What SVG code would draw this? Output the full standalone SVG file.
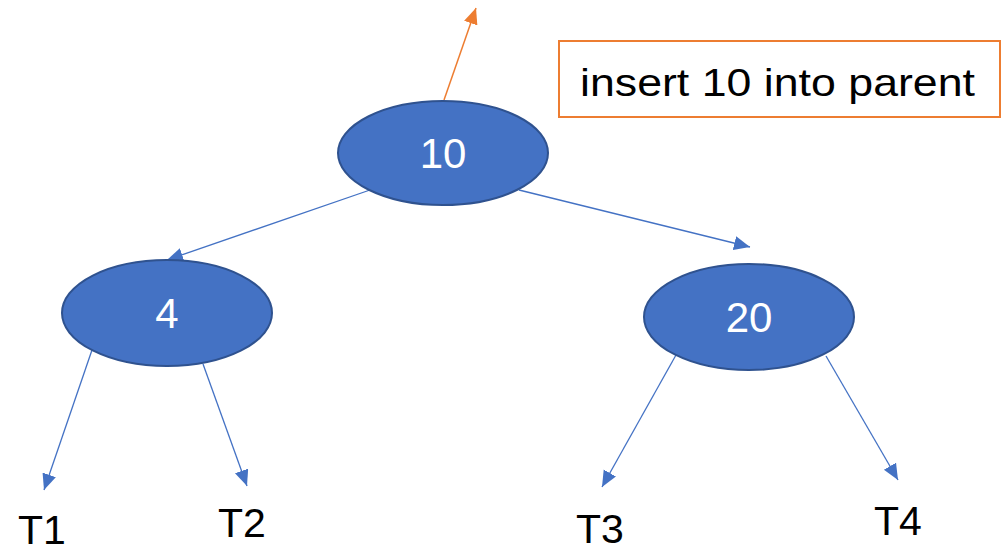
<svg xmlns="http://www.w3.org/2000/svg" width="1004" height="552" viewBox="0 0 1004 552">
  <style>
    .node ellipse { fill: #4472C4; stroke: #2F528F; stroke-width: 2; }
    .node text { fill: #FFFFFF; font-family: "Liberation Sans", Arial, sans-serif; font-size: 42px; text-anchor: middle; }
    .edge { stroke: #4472C4; stroke-width: 1.3; fill: none; marker-end: url(#arrowBlue); }
    .leaf { fill: #000000; font-family: "Liberation Sans", Arial, sans-serif; font-size: 41px; }
    .note { fill: #000000; font-family: "Liberation Sans", Arial, sans-serif; font-size: 39px; }
  </style>
  <defs>
    <marker id="arrowBlue" markerUnits="userSpaceOnUse" markerWidth="18" markerHeight="16" refX="16" refY="7" orient="auto">
      <path d="M0,0 L16,7 L0,14 Z" fill="#4472C4"/>
    </marker>
    <marker id="arrowOrange" markerUnits="userSpaceOnUse" markerWidth="18" markerHeight="16" refX="16" refY="7" orient="auto">
      <path d="M0,0 L16,7 L0,14 Z" fill="#ED7D31"/>
    </marker>
  </defs>

  <rect width="1004" height="552" fill="#FFFFFF"/>

  <g id="connectors">
    <line x1="444" y1="100" x2="476" y2="8" stroke="#ED7D31" stroke-width="1.5" marker-end="url(#arrowOrange)"/>
    <line class="edge" x1="370" y1="190" x2="167" y2="260"/>
    <line class="edge" x1="519" y1="190" x2="750" y2="247"/>
    <line class="edge" x1="92" y1="350" x2="44" y2="490"/>
    <line class="edge" x1="203" y1="364" x2="247" y2="486"/>
    <line class="edge" x1="676" y1="355" x2="602" y2="487"/>
    <line class="edge" x1="826" y1="356" x2="898" y2="480"/>
  </g>

  <g id="node-10" class="node">
    <ellipse cx="443" cy="153" rx="105" ry="52"/>
    <text x="443" y="168">10</text>
  </g>
  <g id="node-4" class="node">
    <ellipse cx="167" cy="313" rx="105" ry="53"/>
    <text x="167" y="328">4</text>
  </g>
  <g id="node-20" class="node">
    <ellipse cx="749" cy="317" rx="105" ry="53"/>
    <text x="749" y="332">20</text>
  </g>

  <g id="leaf-T1"><text class="leaf" x="18" y="544">T1</text></g>
  <g id="leaf-T2"><text class="leaf" x="218" y="537">T2</text></g>
  <g id="leaf-T3"><text class="leaf" x="576" y="543">T3</text></g>
  <g id="leaf-T4"><text class="leaf" x="874" y="535">T4</text></g>

  <g id="note">
    <rect x="559" y="41" width="441" height="76" fill="#FFFFFF" stroke="#ED7D31" stroke-width="2"/>
    <text class="note" x="580" y="96" textLength="395" lengthAdjust="spacingAndGlyphs">insert 10 into parent</text>
  </g>
</svg>
